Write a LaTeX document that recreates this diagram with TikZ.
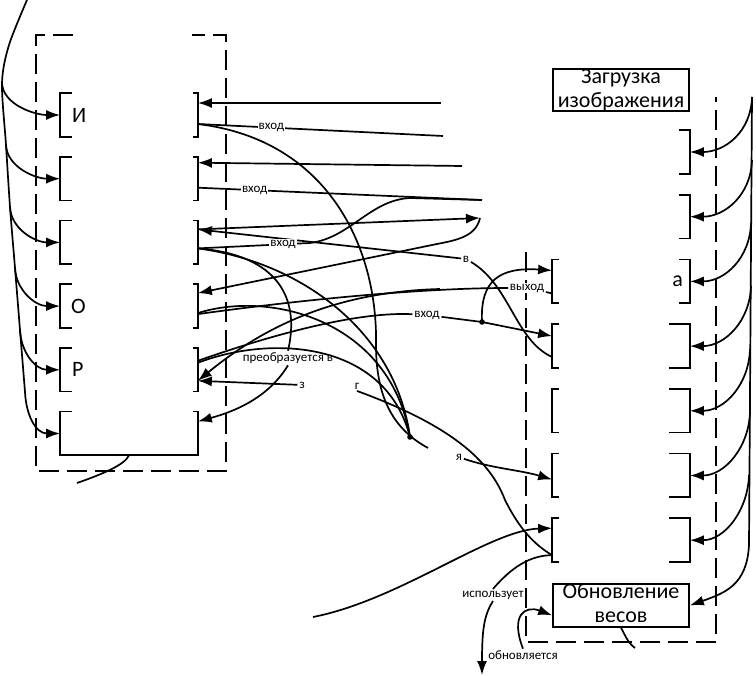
\documentclass[tikz,border=0pt]{standalone}
\usepackage{fontspec}
\setmainfont{Carlito}
\usetikzlibrary{positioning,arrows.meta}

\tikzset{
  box/.style={minimum width=136pt, minimum height=42pt, inner sep=0pt, align=center,
    font=\fontsize{22}{24}\selectfont},
  part/.style={inner sep=0pt, font=\fontsize{22}{24}\selectfont},
  lbl/.style={fill=white, inner sep=1pt, font=\fontsize{13}{14}\selectfont},
  frame/.style={dash pattern=on 20pt off 8pt},
}
% open boxes: only the sides with short stubs
\newcommand{\lbrk}[2]{\draw ([xshift=#2]#1.north west) -- (#1.north west) -- (#1.south west) -- ([xshift=#2]#1.south west) ;}
\newcommand{\rbrk}[2]{\draw ([xshift=-#2]#1.north east) -- (#1.north east) -- (#1.south east) -- ([xshift=-#2]#1.south east) ;}

\begin{document}
\begin{tikzpicture}[x=1pt, y=-1pt, line width=1.7pt, >={Latex[length=14pt,width=10pt]}]
      \useasboundingbox (0,0) rectangle (756,676) ;

      % left column
      \node[box] (L1) at (129,115) {} ;
      \node[box, below=20pt of L1] (L2) {} ;
      \node[box, below=20pt of L2] (L3) {} ;
      \node[box, below=20pt of L3] (L4) {} ;
      \node[box, below=20pt of L4] (L5) {} ;
      \node[box, below=20pt of L5] (L6) {} ;
      \lbrk{L1}{12pt} \rbrk{L1}{5pt}
      \lbrk{L2}{12pt} \rbrk{L2}{5pt}
      \lbrk{L3}{12pt} \rbrk{L3}{5pt}
      \lbrk{L4}{12pt} \rbrk{L4}{5pt}
      \lbrk{L5}{12pt} \rbrk{L5}{5pt}
      \lbrk{L6}{12pt} \rbrk{L6}{5pt}
      \draw (L6.south west) -- (L6.south east) ;
      \node[part, right=11pt of L1.west] (t1) {И} ;
      \node[part, right=10pt of L4.west] (t4) {О} ;
      \node[part, right=11pt of L5.west] (t5) {Р} ;
      \draw[frame] (73,35) -- (36,35) -- (36,471) -- (226,471) -- (226,35) -- (192,35) ;

      % right column
      \node[box, draw] (Z) at (621,90) {Загрузка\\изображения} ;
      \node[box] (R1) at (621,152) {} ;
      \node[box, below=21pt of R1] (R2) {} ;
      \node[box, below=21pt of R2] (R3) {} ;
      \node[box, below=21pt of R3] (R4) {} ;
      \node[box, below=21pt of R4] (R5) {} ;
      \node[box, below=21pt of R5] (R6) {} ;
      \node[box, below=21pt of R6] (R7) {} ;
      \node[box, draw, below=21pt of R7, text depth=4pt] (R8) {Обновление\\весов} ;
      \rbrk{R1}{11pt}
      \rbrk{R2}{11pt}
      \lbrk{R3}{7pt} \rbrk{R3}{11pt}
      \lbrk{R4}{7pt} \rbrk{R4}{21pt}
      \lbrk{R5}{7pt} \rbrk{R5}{21pt}
      \lbrk{R6}{7pt} \rbrk{R6}{21pt}
      \lbrk{R7}{7pt} \rbrk{R7}{21pt}
      \node[part, left=6pt of R3.east] (t3) {а} ;
      \draw[frame] (526,252) -- (526,642) -- (716,642) -- (716,97) ;

      % free ends
      \coordinate (a1) at (441,103) ;
      \coordinate (a2) at (443,136) ;
      \coordinate (a3) at (462,166) ;
      \coordinate (a4) at (482,200) ;
      \coordinate (a6) at (480,218) ;
      \coordinate (a7) at (440,289) ;
      \coordinate (a8) at (482,675) ;
      \coordinate (m1) at (410,198) ;
      \coordinate (b1) at (313,617) ;
      \coordinate (e1) at (635,648) ;
      \coordinate (e2) at (77,483) ;
      \coordinate (P) at (410,437) ;
      \coordinate (Q) at (428,448) ;
      \coordinate (d1) at (482,322) ;

      % labels
      \node[lbl] (v) at (466,259) {в} ;
      \node[lbl] (vy) at (527,288) {выход} ;
      \node[lbl] (vx) at (427,315) {вход} ;
      \node[lbl] (pr) at (288,358) {преобразуется в} ;
      \node[lbl] (z) at (302,385) {з} ;
      \node[lbl] (g) at (357,386) {г} ;
      \node[lbl] (ya) at (459,457) {я} ;
      \node[lbl] (isp) at (493,595) {использует} ;
      \node[lbl] (ob) at (523,655) {обновляется} ;

      % left bus
      \draw plot[smooth] coordinates {(27,0) (9,45) (2,83) (6,145) (10,207) (15,268) (20,330) (25,392)} ;
      \draw[->] (2,83) .. controls +(1,22) and +(-25,0) .. (L1.west) ;
      \draw[->] (6,145) .. controls +(1,22) and +(-25,0) .. (L2.west) ;
      \draw[->] (10,207) .. controls +(1,22) and +(-25,0) .. (L3.west) ;
      \draw[->] (15,268) .. controls +(1,22) and +(-25,0) .. (L4.west) ;
      \draw[->] (20,330) .. controls +(1,22) and +(-25,0) .. (L5.west) ;
      \draw[->] (25,392) .. controls +(1,22) and +(-25,0) .. (L6.west) ;

      % right bus
      \draw[->] (752,97) -- (749,545) .. controls (747,585) and (725,593) .. (R8.east) ;
      \draw[->] (752,97) .. controls +(-1,35) and +(35,0) .. (R1.east) ;
      \draw[->] (752,160) .. controls +(-1,35) and +(35,0) .. (R2.east) ;
      \draw[->] (751,223) .. controls +(-1,35) and +(35,0) .. (R3.east) ;
      \draw[->] (751,286) .. controls +(-1,35) and +(35,0) .. (R4.east) ;
      \draw[->] (750,349) .. controls +(-1,35) and +(35,0) .. (R5.east) ;
      \draw[->] (750,412) .. controls +(-1,35) and +(35,0) .. (R6.east) ;
      \draw[->] (749,475) .. controls +(-1,35) and +(35,0) .. (R7.east) ;

      % links
      \draw[->] (a1) -- ([yshift=12pt]L1.east) ;
      \draw ([yshift=-9pt]L1.east) -- node[lbl, pos=0.3] (i1) {вход} (a2) ;
      \draw ([yshift=-9pt]L1.east) .. controls (330,140) and (378,250) .. (376,345) .. controls (376,400) and (395,430) .. (Q) ;
      \draw[->] (a3) -- ([yshift=16pt]L2.east) ;
      \draw ([yshift=-9pt]L2.east) -- node[lbl, pos=0.2] (i2) {вход} (a4) ;
      \draw[->] (v) -- ([yshift=13pt]L3.east) ;
      \draw[->] ([yshift=13pt]L3.east) -- (a6) ;
      \draw[->] (a6) .. controls (476,236) and (458,240) .. (437,244) -- ([yshift=13pt]L4.east) ;
      \draw ([yshift=-6pt]L3.east) -- node[lbl, pos=0.76] (i3) {вход} (310,243) .. controls (350,238) and (370,200) .. (m1) -- (a4) ;
      \draw ([yshift=-6pt]L3.east) .. controls (280,255) and (300,300) .. (pr.north) ;
      \draw[->] (pr.south) .. controls (270,395) and (240,410) .. ([yshift=12pt]L6.east) ;
      \draw ([yshift=-6pt]L3.east) .. controls (300,262) and (395,330) .. (P) ;
      \draw ([yshift=-8pt]L4.east) .. controls (300,300) and (420,288) .. (vy) -- ([yshift=-12pt]R3.west) ;
      \draw ([yshift=-7pt]L4.east) .. controls (270,290) and (390,320) .. (P) ;
      \draw[->] ([yshift=9pt]L5.east) .. controls (300,325) and (370,312) .. (vx) -- (d1) -- ([yshift=10pt]R4.west) ;
      \draw[->] (d1) .. controls (480,280) and (500,267) .. ([yshift=11pt]R3.west) ;
      \draw ([yshift=7pt]L5.east) .. controls (270,335) and (385,340) .. (P) ;
      \draw[->] (z) -- ([yshift=-11pt]L5.east) ;
      \draw[->] (a7) .. controls (330,292) and (260,330) .. ([yshift=-11pt]L5.east) ;
      \draw (v) .. controls (510,285) and (515,340) .. ([yshift=-11pt]R4.west) ;
      \draw (g.south) .. controls (450,425) and (490,460) .. (505,500) .. controls (520,530) and (535,545) .. ([yshift=-15pt]R7.west) ;
      \draw[->] (ya) .. controls (490,468) and (520,470) .. ([yshift=-4pt]R6.west) ;
      \draw[->] (b1) .. controls (400,600) and (490,530) .. ([yshift=12pt]R7.west) ;
      \draw ([yshift=-15pt]R7.west) .. controls (525,555) and (505,575) .. (isp.north) ;
      \draw[->] (isp.south) .. controls (484,615) and (482,630) .. (a8) ;
      \draw[->] (ob.north) .. controls (510,615) and (525,605) .. ([yshift=-10pt]R8.west) ;
      \draw (R8.south) .. controls (625,635) and (628,643) .. (e1) ;
      \draw (L6.south) .. controls (125,465) and (100,475) .. (e2) ;
      \fill (P) circle (2.8pt) ;
      \fill (d1) circle (2.8pt) ;

\end{tikzpicture}
\end{document}
